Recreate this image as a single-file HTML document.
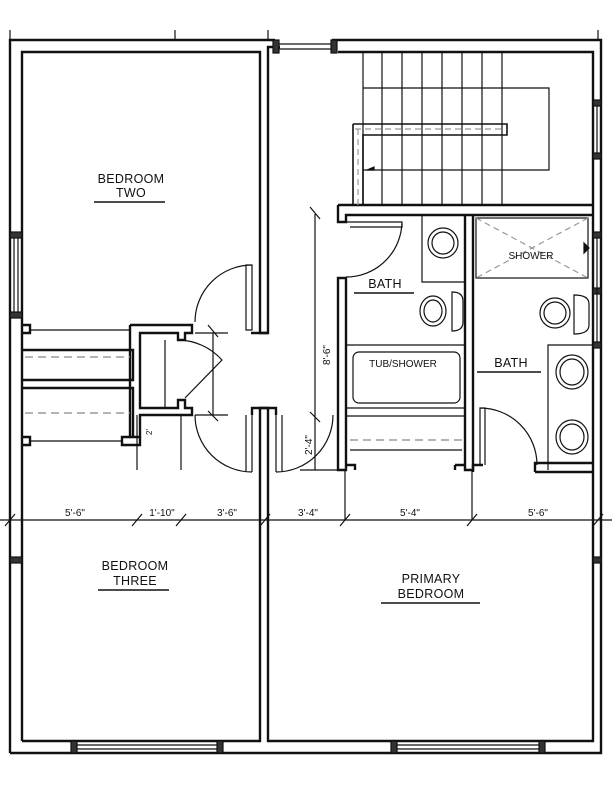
<!DOCTYPE html>
<html><head><meta charset="utf-8"><style>
html,body{margin:0;padding:0;background:#fff;}
svg{display:block;}
text{font-family:"Liberation Sans",sans-serif;fill:#111;}
</style></head><body>
<svg width="612" height="792" viewBox="0 0 612 792" xmlns="http://www.w3.org/2000/svg">
<rect width="612" height="792" fill="#fff"/>
<g fill="none" stroke="#111" stroke-width="2.4">
<path d="M10,753 V40 H275 M10,40"/>
<path d="M22,741 V52 H260 V333 H268 V47 H280"/>
<path d="M332,40 H601 V753 H10"/>
<path d="M338,52 H593 V741 H268 V408 H260 V741 H22"/>
<path d="M338,205 H593 M338,205 V222 H346 V215 H593"/>
<path d="M338,278 V470 H346 V278 Z"/>
<path d="M465,215 V470 H473 V215"/>
<path d="M346,465 H355 V470 M455,465 V470 M465,465 H455"/>
<path d="M473,472 V465 H483"/>
<path d="M535,472 V463 H593 M535,472 H593"/>
<path d="M251,333 H268"/>
<path d="M22,325 H30 V333 H22 M130,325 H192 V333 H185 V340 H178 V333 H140 V408 H178 V400 H185 V408 H192 V415 H140 V437 H130 V325"/>
<path d="M22,437 H30 V445 H22 M140,437 V445 H122 V437 H130"/>
<path d="M22,350 H133 V380 H22 M22,388 H133 V437"/>
<path d="M252,415 V408 H276 V415"/>
</g>
<g fill="none" stroke="#111" stroke-width="1.2">
<path d="M275,44 H332 M275,49 H332"/>
<rect x="273" y="40" width="6" height="13" fill="#333"/>
<rect x="331" y="40" width="6" height="13" fill="#333"/>
<rect x="10" y="232" width="12" height="6" fill="#333"/>
<rect x="10" y="312" width="12" height="6" fill="#333"/>
<path d="M14,238 V312 M18,238 V312"/>
<rect x="593" y="100" width="8" height="6" fill="#333"/><rect x="593" y="153" width="8" height="6" fill="#333"/>
<path d="M597,106 V153"/>
<rect x="593" y="232" width="8" height="6" fill="#333"/><rect x="593" y="288" width="8" height="6" fill="#333"/><rect x="593" y="342" width="8" height="6" fill="#333"/>
<path d="M597,238 V342"/>
<rect x="593" y="557" width="8" height="6" fill="#333"/>
<rect x="10" y="557" width="12" height="6" fill="#333"/>
<rect x="71" y="741" width="6" height="12" fill="#333"/><rect x="217" y="741" width="6" height="12" fill="#333"/>
<path d="M77,745 H217 M77,749 H217"/>
<rect x="391" y="741" width="6" height="12" fill="#333"/><rect x="539" y="741" width="6" height="12" fill="#333"/>
<path d="M397,745 H539 M397,749 H539"/>
<path d="M363,53 V205 M382,53 V205 M402,53 V205 M422,53 V205 M442,53 V205 M462,53 V205 M482,53 V205 M502,53 V205"/>
<path d="M363,88 H549 V170 H363"/>
<path d="M353,124 H507 V135 H363 V205 M353,124 V205" stroke-width="1.6"/>
<path d="M355,129 H505 M358,129 V205" stroke="#999" stroke-dasharray="6,4"/>
<path d="M367,170 l7,-3 v3 z" fill="#111"/>
<path d="M422,215 V282 H465"/>
<ellipse cx="443" cy="243" rx="15" ry="15"/><ellipse cx="443" cy="243" rx="11" ry="11"/>
<path d="M346,222 H402 V227 H350 M346,277 A56,56 0 0 0 402,222"/>
<ellipse cx="433" cy="311" rx="13" ry="15"/><ellipse cx="433" cy="311" rx="9" ry="11"/>
<path d="M452,292 q11,0 11,9 v21 q0,9 -11,9 z"/>
<path d="M347,345 H465 M347,408 H465"/>
<rect x="353" y="352" width="107" height="51" rx="6"/>
<path d="M347,416 H465"/>
<path d="M350,440 H462" stroke="#888" stroke-dasharray="8,5"/>
<path d="M350,450 H462"/>
<rect x="476" y="218" width="112" height="60"/>
<path d="M476,218 L588,278 M588,218 L476,278" stroke="#999" stroke-dasharray="6,4"/>
<path d="M584,243 l5,5 l-5,5 z" fill="#111"/>
<ellipse cx="555" cy="313" rx="15" ry="15"/><ellipse cx="555" cy="313" rx="11" ry="11"/>
<path d="M574,295 q15,0 15,9 v21 q0,9 -15,9 z"/>
<path d="M548,470 V345 H593"/>
<ellipse cx="572" cy="372" rx="16" ry="17"/><ellipse cx="572" cy="372" rx="12" ry="13"/>
<ellipse cx="572" cy="437" rx="16" ry="17"/><ellipse cx="572" cy="437" rx="12" ry="13"/>
<path d="M480,465 V408 H485 V465 M480,408 A57,57 0 0 1 537,465"/>
<path d="M25,357 H130 M25,413 H130" stroke="#888" stroke-dasharray="8,5"/>
<path d="M30,330 H130 M30,441 H122"/>
<path d="M165,340 V408"/>
<path d="M246,265 H252 V330 H246 Z M252,265 A57,57 0 0 0 195,322"/>
<path d="M178,340 A60,60 0 0 1 222,360 L185,398"/>
<path d="M252,415 V472 M246,415 V472 M252,472 A57,57 0 0 1 195,415"/>
<path d="M276,415 V472 M282,415 V472 M276,472 A57,57 0 0 0 333,415"/>
<path d="M0,520 H612"/>
<path d="M5,526 l10,-12 M132,526 l10,-12 M176,526 l10,-12 M260,526 l10,-12 M340,526 l10,-12 M467,526 l10,-12 M593,526 l10,-12"/>
<path d="M315,214 V470 M310,207 l10,12 M310,412 l10,10 M300,470 H345"/>
<path d="M213,333 V415 M208,325 l10,12 M208,411 l10,10 M195,333 H228 M195,415 H228"/>
<path d="M137,415 V470 M181,415 V470 M345,470 V520 M472,470 V520"/>
<path d="M10,30 V40 M175,30 V40 M268,30 V40 M598,30 V40"/>
</g>
<g font-size="12.5" text-anchor="middle" letter-spacing="0.3">
<text x="131" y="183">BEDROOM</text><text x="131" y="197">TWO</text>
<text x="385" y="288">BATH</text>
<text x="511" y="367">BATH</text>
<text x="135" y="570">BEDROOM</text><text x="135" y="585">THREE</text>
<text x="431" y="583">PRIMARY</text><text x="431" y="598">BEDROOM</text>
</g>
<g stroke="#111" stroke-width="1.4">
<path d="M94,202 H165 M354,293 H414 M477,372 H541 M98,590 H169 M381,603 H480"/>
</g>
<g font-size="10" text-anchor="middle">
<text x="403" y="367">TUB/SHOWER</text>
<text x="531" y="259" fill="#444">SHOWER</text>
<text x="75" y="516">5'-6"</text><text x="162" y="516">1'-10"</text><text x="227" y="516">3'-6"</text>
<text x="308" y="516">3'-4"</text><text x="410" y="516">5'-4"</text><text x="538" y="516">5'-6"</text>
<text transform="translate(330,355) rotate(-90)">8'-6"</text>
<text transform="translate(312,445) rotate(-90)">2'-4"</text>
<text transform="translate(152,432) rotate(-90)" font-size="8">2'</text>
</g>
</svg>
</body></html>
